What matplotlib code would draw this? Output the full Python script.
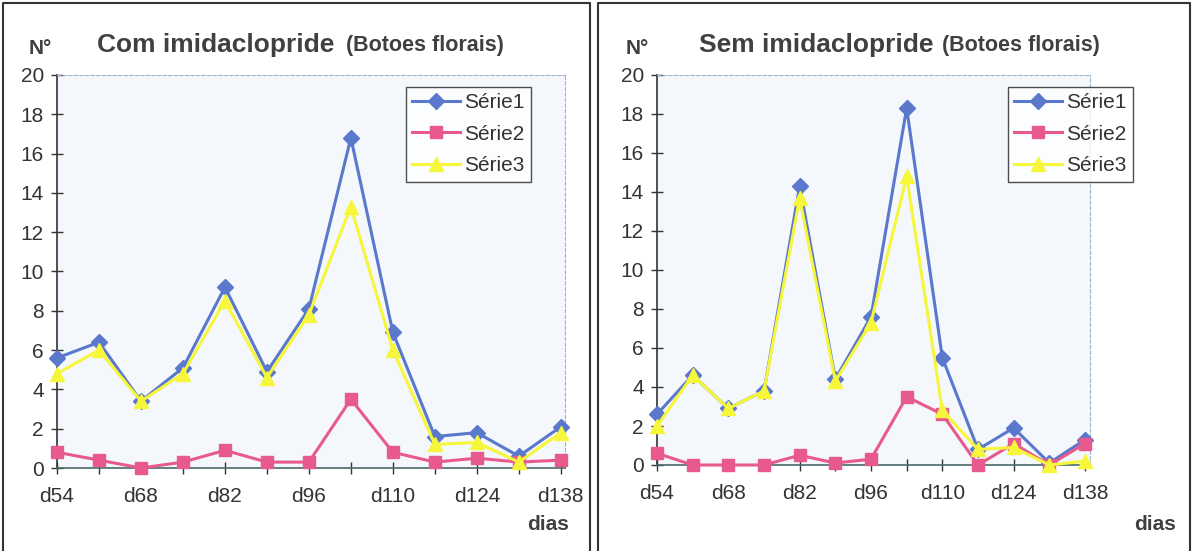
import numpy as np
import matplotlib.pyplot as plt
from matplotlib.lines import Line2D

plt.rcParams['font.family'] = ['Liberation Sans', 'DejaVu Sans']

dias = ['d54', 'd61', 'd68', 'd75', 'd82', 'd89', 'd96', 'd103',
        'd110', 'd117', 'd124', 'd131', 'd138']

# com imidaclopride
com_serie1 = [5.6, 6.4, 3.4, 5.1, 9.2, 4.9, 8.1, 16.8, 6.9, 1.6, 1.8, 0.6, 2.1]
com_serie2 = [0.8, 0.4, 0.0, 0.3, 0.9, 0.3, 0.3, 3.5, 0.8, 0.3, 0.5, 0.3, 0.4]
com_serie3 = [4.8, 6.0, 3.4, 4.8, 8.5, 4.6, 7.8, 13.3, 6.0, 1.2, 1.3, 0.3, 1.8]

# sem imidaclopride
sem_serie1 = [2.6, 4.6, 2.9, 3.8, 14.3, 4.4, 7.6, 18.3, 5.5, 0.8, 1.9, 0.1, 1.3]
sem_serie2 = [0.6, 0.0, 0.0, 0.0, 0.5, 0.1, 0.3, 3.5, 2.6, 0.0, 1.1, 0.0, 1.1]
sem_serie3 = [2.0, 4.6, 2.9, 3.8, 13.7, 4.3, 7.3, 14.8, 2.8, 0.8, 0.9, 0.0, 0.2]

series_names = ['Série1', 'Série2', 'Série3']
colors = ['#5a78cc', '#e85a8e', '#f6f63a']
markers = ['D', 's', '^']
msizes = [8.5, 9, 10.5]

W, H = 1193, 551
fig = plt.figure(figsize=(W / 100, H / 100), dpi=100)
fig.patch.set_facecolor('white')

def fx(px):
    return px / W

def fy(py):
    return 1 - py / H

# panel frames (left, top, right edges only)
for x0, x1 in [(3, 590), (598, 1190)]:
    fig.add_artist(Line2D([fx(x0), fx(x0), fx(x1), fx(x1)],
                          [0, fy(3), fy(3), 0], color='#333333', lw=1.5,
                          transform=fig.transFigure))


def panel(rect, xmax, data, title_main, title_x, sub_x, n_x, dias_x, legend_box):
    ax = fig.add_axes(rect)
    ax.set_facecolor('#f4f7fb')
    x = np.arange(len(dias))
    for vals, name, c, m, ms in zip(data, series_names, colors, markers, msizes):
        ax.plot(x, vals, color=c, marker=m, markersize=ms, lw=2.2,
                label=name, clip_on=False, zorder=3)
    ax.set_xlim(0, xmax)
    ax.set_ylim(0, 20)
    ax.set_yticks(np.arange(0, 21, 2))
    ax.set_xticks(x)
    ax.set_xticklabels([d if i % 2 == 0 else '' for i, d in enumerate(dias)])
    ax.tick_params(axis='both', direction='inout', length=9, width=1,
                   color='#333333', labelsize=15, labelcolor='#333333')
    ax.tick_params(axis='x', pad=9)
    ax.tick_params(axis='y', pad=5)
    ax.spines['left'].set_color('#333333')
    ax.spines['left'].set_linewidth(1.2)
    ax.spines['bottom'].set_color('#4a6a6a')
    ax.spines['bottom'].set_linewidth(1.2)
    for s in ['top', 'right']:
        ax.spines[s].set_color('#9fb3c8')
        ax.spines[s].set_linestyle((0, (3, 2)))
        ax.spines[s].set_linewidth(0.8)

    leg = ax.legend(loc='upper left', bbox_to_anchor=legend_box,
                    bbox_transform=fig.transFigure, frameon=True,
                    fancybox=False, fontsize=15, handlelength=2.3,
                    handletextpad=0.2, labelspacing=0.6, borderpad=0.3,
                    borderaxespad=0)
    leg.get_frame().set_edgecolor('#222222')
    leg.get_frame().set_linewidth(1.0)
    leg.get_frame().set_facecolor('white')
    for t in leg.get_texts():
        t.set_color('#333333')

    fig.text(fx(title_x), fy(45), title_main, fontsize=19, fontweight='bold',
             color='#404040', va='center', ha='left')
    fig.text(fx(sub_x), fy(46), '(Botoes florais)', fontsize=15.5,
             fontweight='bold', color='#404040', va='center', ha='left')
    fig.text(fx(n_x), fy(48), 'N°', fontsize=15, fontweight='bold',
             color='#404040', va='center', ha='left')
    fig.text(fx(dias_x), fy(524), 'dias', fontsize=15, fontweight='bold',
             color='#404040', va='center', ha='center')
    return ax


panel([fx(57), fy(468), fx(565) - fx(57), fy(75) - fy(468)], 12.1,
      [com_serie1, com_serie2, com_serie3], 'Com imidaclopride',
      97, 346, 29, 548, (fx(406), fy(87)))

panel([fx(657), fy(465), fx(1090) - fx(657), fy(75) - fy(465)], 12.14,
      [sem_serie1, sem_serie2, sem_serie3], 'Sem imidaclopride',
      699, 942, 626, 1155, (fx(1008), fy(87)))

fig.savefig('out.png', dpi=100)
